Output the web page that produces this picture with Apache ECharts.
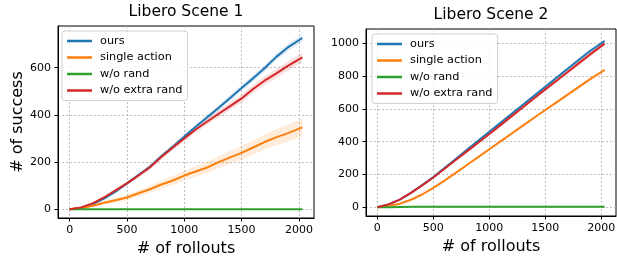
<!DOCTYPE html>
<html>
<head>
<meta charset="utf-8">
<script src="https://cdn.jsdelivr.net/npm/echarts@6/dist/echarts.min.js"></script>
<style>
  html, body { margin: 0; padding: 0; background: #fff; }
  #chart { width: 617px; height: 258px; }
</style>
</head>
<body>
<div id="chart"></div>
<script>
// rollouts sampled along x
const X_POINTS = [0, 100, 200, 300, 400, 500, 600, 700, 800, 900, 1000, 1100, 1200, 1300, 1400, 1500, 1600, 1700, 1800, 1900, 2030];

const SERIES_NAMES = ['ours', 'single action', 'w/o rand', 'w/o extra rand'];
const COLORS = ['#1f77b4', '#ff7f0e', '#2ca02c', '#d62728'];
const X_TICKS = [0, 500, 1000, 1500, 2000];
const Y_TICKS_1 = [0, 200, 400, 600];
const Y_TICKS_2 = [0, 200, 400, 600, 800, 1000];

// Libero Scene 1
const S1_OURS = [0, 5, 22, 45, 75, 110, 145, 180, 225, 265, 308, 350, 390, 430, 472, 514, 555, 598, 645, 685, 726];
const S1_SINGLE = [0, 5, 15, 28, 38, 50, 68, 85, 105, 122, 143, 160, 177, 200, 220, 239, 262, 285, 305, 322, 347];
const S1_NORAND = [0, 0, 0, 0, 0, 0, 0, 0, 0, 0, 0, 0, 0, 0, 0, 0, 0, 0, 0, 0, 0];
const S1_NOEXTRA = [0, 8, 25, 50, 80, 110, 143, 178, 222, 262, 300, 338, 372, 405, 437, 470, 510, 545, 575, 607, 644];
const S1_OURS_SPREAD = [0, 2, 3, 4, 5, 6, 7, 8, 8, 9, 10, 10, 11, 12, 12, 13, 13, 14, 14, 15, 15];
const S1_SINGLE_SPREAD = [0, 3, 6, 8, 10, 12, 14, 15, 17, 19, 20, 22, 24, 25, 27, 29, 30, 32, 34, 36, 38];
const S1_NOEXTRA_SPREAD = [0, 2, 4, 6, 7, 8, 9, 10, 11, 12, 13, 13, 14, 15, 16, 16, 17, 18, 19, 20, 20];

// Libero Scene 2
const S2_OURS = [0, 18, 47, 88, 135, 184, 240, 295, 350, 405, 461, 516, 570, 625, 680, 735, 790, 845, 900, 953, 1014];
const S2_SINGLE = [0, 8, 22, 46, 78, 118, 163, 210, 258, 306, 354, 402, 450, 498, 546, 593, 640, 687, 734, 781, 837];
const S2_NORAND = [0, 1, 2, 3, 3, 3, 3, 3, 3, 3, 3, 3, 3, 3, 3, 3, 3, 3, 3, 4, 4];
const S2_NOEXTRA = [0, 18, 47, 88, 134, 182, 235, 288, 341, 394, 447, 501, 556, 610, 665, 719, 772, 825, 879, 932, 998];
const S2_OURS_SPREAD = [0, 2, 3, 4, 5, 5, 6, 6, 7, 7, 8, 8, 9, 9, 10, 10, 11, 11, 12, 12, 13];
const S2_SINGLE_SPREAD = [0, 2, 3, 3, 4, 4, 5, 5, 6, 6, 6, 7, 7, 8, 8, 8, 9, 9, 10, 10, 10];
const S2_NOEXTRA_SPREAD = [0, 2, 3, 4, 5, 6, 6, 7, 8, 8, 9, 10, 10, 11, 12, 12, 13, 14, 14, 15, 15];

const FONT = 'DejaVu Sans';

function pairs(values) {
  return X_POINTS.map((x, i) => [x, values[i]]);
}

function lineSeries(name, values, color, gi) {
  return {
    name: name,
    type: 'line',
    xAxisIndex: gi,
    yAxisIndex: gi,
    data: pairs(values),
    showSymbol: false,
    symbol: 'none',
    color: color,
    lineStyle: { width: 2, color: color },
    z: 5,
    silent: true
  };
}

// shaded spread drawn as one polygon through the axis scales
function bandSeries(values, spread, color, gi) {
  return {
    type: 'custom',
    coordinateSystem: 'cartesian2d',
    xAxisIndex: gi,
    yAxisIndex: gi,
    data: pairs(values),
    z: 2,
    silent: true,
    clip: true,
    renderItem: function (params, api) {
      if (params.dataIndex !== 0) return null;
      const pts = [];
      X_POINTS.forEach((x, i) => pts.push(api.coord([x, values[i] + spread[i]])));
      for (let i = X_POINTS.length - 1; i >= 0; i--) {
        pts.push(api.coord([X_POINTS[i], values[i] - spread[i]]));
      }
      return {
        type: 'polygon',
        shape: { points: pts },
        style: { fill: color, opacity: 0.15 }
      };
    }
  };
}

function plainNum(v) {
  return String(v);
}

function xAxisFor(gi) {
  return {
    type: 'value',
    gridIndex: gi,
    min: -101.5,
    max: 2131.5,
    name: '# of rollouts',
    nameLocation: 'middle',
    nameGap: 22,
    nameTextStyle: { fontFamily: FONT, fontSize: 16, color: '#000' },
    axisLine: { show: true, onZero: false, lineStyle: { color: '#000', width: 1 } },
    axisTick: { show: true, inside: false, length: 3.5, customValues: X_TICKS, lineStyle: { color: '#000' } },
    axisLabel: { customValues: X_TICKS, formatter: plainNum, fontFamily: FONT, fontSize: 11, color: '#000', margin: 7 },
    splitLine: { show: true, lineStyle: { color: '#b0b0b0', type: [2, 2], width: 0.8 } }
  };
}

function yAxisFor(gi, min, max, ticks, name) {
  return {
    type: 'value',
    gridIndex: gi,
    min: min,
    max: max,
    name: name,
    nameLocation: 'middle',
    nameGap: 22,
    nameTextStyle: { fontFamily: FONT, fontSize: 16, color: '#000' },
    axisLine: { show: true, onZero: false, lineStyle: { color: '#000', width: 1 } },
    axisTick: { show: true, inside: false, length: 3.5, customValues: ticks, lineStyle: { color: '#000' } },
    axisLabel: { customValues: ticks, formatter: plainNum, fontFamily: FONT, fontSize: 11, color: '#000', margin: 7 },
    splitLine: { show: true, lineStyle: { color: '#b0b0b0', type: [2, 2], width: 0.8 } }
  };
}

function legendFor(left, top) {
  return {
    data: SERIES_NAMES,
    orient: 'vertical',
    left: left,
    top: top,
    icon: 'rect',
    itemWidth: 25,
    itemHeight: 2.5,
    itemGap: 2.5,
    padding: [3, 5, 3, 5],
    backgroundColor: 'rgba(255,255,255,0.8)',
    borderColor: '#d0d0d0',
    borderWidth: 1,
    borderRadius: 3,
    selectedMode: false,
    textStyle: { fontFamily: FONT, fontSize: 11.3, color: '#000', lineHeight: 14, padding: [0, 0, 0, 3] }
  };
}

const chart = echarts.init(document.getElementById('chart'), null, { renderer: 'canvas' });

const series = [
  bandSeries(S1_OURS, S1_OURS_SPREAD, COLORS[0], 0),
  bandSeries(S1_SINGLE, S1_SINGLE_SPREAD, COLORS[1], 0),
  bandSeries(S1_NOEXTRA, S1_NOEXTRA_SPREAD, COLORS[3], 0),
  bandSeries(S2_OURS, S2_OURS_SPREAD, COLORS[0], 1),
  bandSeries(S2_SINGLE, S2_SINGLE_SPREAD, COLORS[1], 1),
  bandSeries(S2_NOEXTRA, S2_NOEXTRA_SPREAD, COLORS[3], 1),
  lineSeries(SERIES_NAMES[0], S1_OURS, COLORS[0], 0),
  lineSeries(SERIES_NAMES[1], S1_SINGLE, COLORS[1], 0),
  lineSeries(SERIES_NAMES[2], S1_NORAND, COLORS[2], 0),
  lineSeries(SERIES_NAMES[3], S1_NOEXTRA, COLORS[3], 0),
  lineSeries(SERIES_NAMES[0], S2_OURS, COLORS[0], 1),
  lineSeries(SERIES_NAMES[1], S2_SINGLE, COLORS[1], 1),
  lineSeries(SERIES_NAMES[2], S2_NORAND, COLORS[2], 1),
  lineSeries(SERIES_NAMES[3], S2_NOEXTRA, COLORS[3], 1)
];

const option = {
  animation: false,
  backgroundColor: '#fff',
  title: [
    { text: 'Libero Scene 1', left: 186, top: 4, textAlign: 'center', padding: 0,
      textStyle: { fontFamily: FONT, fontSize: 15.5, fontWeight: 'normal', color: '#000' } },
    { text: 'Libero Scene 2', left: 491, top: 7, textAlign: 'center', padding: 0,
      textStyle: { fontFamily: FONT, fontSize: 15.5, fontWeight: 'normal', color: '#000' } }
  ],
  legend: [legendFor(62, 31), legendFor(372, 34)],
  grid: [
    { left: 58, top: 26, width: 256, height: 192, show: true, borderColor: '#000', borderWidth: 1,
      backgroundColor: 'transparent', outerBoundsMode: 'none', containLabel: false },
    { left: 366, top: 29, width: 250, height: 187, show: true, borderColor: '#000', borderWidth: 1,
      backgroundColor: 'transparent', outerBoundsMode: 'none', containLabel: false }
  ],
  xAxis: [xAxisFor(0), xAxisFor(1)],
  yAxis: [
    yAxisFor(0, -37, 777, Y_TICKS_1, '# of success'),
    yAxisFor(1, -53, 1087, Y_TICKS_2, '')
  ],
  series: series
};

chart.setOption(option);
</script>
</body>
</html>
